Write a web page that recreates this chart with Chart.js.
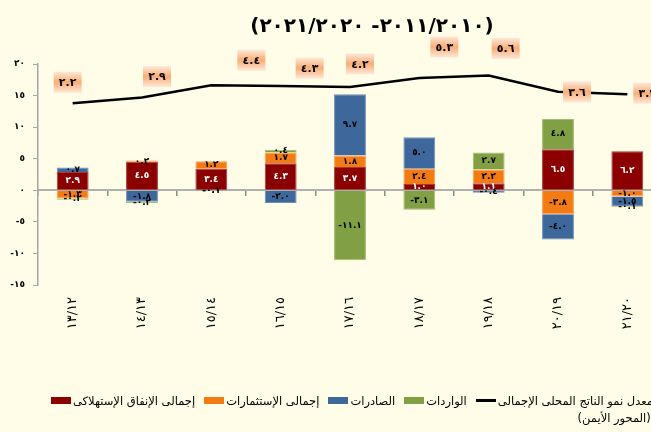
<!DOCTYPE html>
<html lang="ar">
<head>
<meta charset="utf-8">
<script src="https://cdn.jsdelivr.net/npm/chart.js@4.4.1/dist/chart.umd.min.js"></script>
<style>
  html, body { margin: 0; padding: 0; background: #fffde8; overflow: hidden; }
  #wrap { position: relative; width: 651px; height: 432px; overflow: hidden; background: #fffde8; }
  #pmc { position: absolute; left: 0; top: 0; }
  #title {
    position: absolute; left: 0; top: 13px; width: 744px; text-align: center;
    font: bold 20px "DejaVu Sans", sans-serif; color: #000; white-space: nowrap;
  }
  #legend {
    position: absolute; left: 51px; top: 393px; white-space: nowrap;
    font: 11.5px "DejaVu Sans", sans-serif; color: #000; display: flex; align-items: flex-start;
  }
  #legend .item { display: flex; align-items: flex-start; margin-right: 9px; }
  #legend .sw { width: 20px; height: 7px; margin: 4px 2px 0 0; }
  #legend .ln { width: 20px; height: 3px; background: #000; margin: 6px 2px 0 0; }
  #legend .txt { direction: ltr; line-height: 17px; }
  #legend .l1 { direction: rtl; text-align: left; }
  #legend .l2 { direction: rtl; text-align: right; width: 153px; }
</style>
</head>
<body>
<div id="wrap">
  <canvas id="pmc" width="670" height="432"></canvas>
  <div id="title">(٢٠١١/٢٠١٠- ٢٠٢١/٢٠٢٠)</div>
  <div id="legend"></div>
</div>
<script>
// ── data ────────────────────────────────────────────────────────────────
const years        = ["١٣/١٢", "١٤/١٣", "١٥/١٤", "١٦/١٥", "١٧/١٦", "١٨/١٧", "١٩/١٨", "٢٠/١٩", "٢١/٢٠"];
const consumption  = [2.9, 4.5, 3.4, 4.3, 3.7, 1.0, 1.1, 6.5, 6.2];
const investment   = [-1.3, 0.2, 1.2, 1.7, 1.8, 2.4, 2.2, -3.8, -1.0];
const exportsVal   = [0.7, -1.8, -0.04, -2.0, 9.7, 5.0, -0.4, -4.0, -1.5];
const importsVal   = [-0.2, -0.2, -0.1, 0.4, -11.1, -3.1, 2.7, 4.8, -0.1];
const gdpGrowth    = [2.2, 2.9, 4.4, 4.3, 4.2, 5.3, 5.6, 3.6, 3.3];
const yTicks       = [-15, -10, -5, 0, 5, 10, 15, 20];

// label box placement for the growth line (px offset from the point)
const gdpLabelOffset = [[-5,-21],[15,-21],[40,-25],[29,-18],[10,-23],[25,-31],[17,-27],[19,0],[20,-1]];

const LABEL_CONS = "إجمالى الإنفاق الإستهلاكى";
const LABEL_INV  = "إجمالى الإستثمارات";
const LABEL_EXP  = "الصادرات";
const LABEL_IMP  = "الواردات";
const LABEL_GDP  = ["معدل نمو الناتج المحلى الإجمالى", "(المحور الأيمن)"];

const arDigits = "٠١٢٣٤٥٦٧٨٩";
const toAr = s => String(s).replace(/[0-9]/g, d => arDigits[d]);
const fmt1 = v => toAr((Math.abs(v) < 0.05 && v < 0 ? "-0.0" : v.toFixed(1)));

const $ = id => document.getElementById(id);
const canvas = $("pmc");

// ── plugins ─────────────────────────────────────────────────────────────
const barLabels = {
  id: "barLabels",
  afterDatasetsDraw(chart) {
    const ctx = chart.ctx;
    ctx.save();
    ctx.font = "bold 9px 'DejaVu Sans', sans-serif";
    ctx.textAlign = "center";
    ctx.textBaseline = "middle";
    chart.data.datasets.forEach((ds, di) => {
      if (ds.type !== "bar") return;
      const meta = chart.getDatasetMeta(di);
      meta.data.forEach((el, i) => {
        const v = ds.data[i];
        const { x, y, base } = el.getProps(["x", "y", "base"], true);
        ctx.fillStyle = ds.labelColor;
        ctx.fillText(fmt1(v), x, (y + base) / 2);
      });
    });
    ctx.restore();
  },
};

const lineLabels = {
  id: "lineLabels",
  afterDatasetsDraw(chart) {
    const ctx = chart.ctx;
    const di = chart.data.datasets.findIndex(d => d.type === "line");
    const meta = chart.getDatasetMeta(di);
    ctx.save();
    ctx.font = "bold 11px 'DejaVu Sans', sans-serif";
    ctx.textAlign = "center";
    ctx.textBaseline = "middle";
    meta.data.forEach((pt, i) => {
      const [dx, dy] = gdpLabelOffset[i];
      const cx = pt.x + dx, cy = pt.y + dy;
      const w = 28, h = 21;
      const g = ctx.createLinearGradient(0, cy - h / 2, 0, cy + h / 2);
      g.addColorStop(0, "#fde9d9");
      g.addColorStop(0.5, "#f9ad76");
      g.addColorStop(1, "#fde9d9");
      ctx.fillStyle = g;
      ctx.fillRect(cx - w / 2, cy - h / 2, w, h);
      ctx.fillStyle = "#000";
      ctx.fillText(fmt1(gdpGrowth[i]), cx, cy + 1);
    });
    ctx.restore();
  },
};

// ── chart ───────────────────────────────────────────────────────────────
const bar = (label, data, color, border, labelColor) => ({
  type: "bar", label, data, backgroundColor: color, borderColor: border, borderWidth: 1,
  stack: "s", yAxisID: "y", xAxisID: "x", barPercentage: 0.46, categoryPercentage: 1,
  labelColor, order: 2,
});

const chart = new Chart(canvas.getContext("2d"), {
  data: {
    labels: years,
    datasets: [
      bar(LABEL_CONS, consumption, "#8b0000", "#a33a3a", "#ffffff"),
      bar(LABEL_INV,  investment,  "#f47b14", "#f7a057", "#000000"),
      bar(LABEL_EXP,  exportsVal,  "#3e679b", "#6f8fb8", "#000000"),
      bar(LABEL_IMP,  importsVal,  "#80a043", "#a3bb74", "#000000"),
      { type: "line", label: LABEL_GDP.join(" "), data: gdpGrowth, borderColor: "#000", borderWidth: 2.5,
        pointRadius: 0, tension: 0, yAxisID: "y1", xAxisID: "x", order: 1 },
    ],
  },
  options: {
    responsive: false, animation: false, devicePixelRatio: 1,
    layout: { padding: { top: 64, right: 8, bottom: 0, left: 0 } },
    scales: {
      x: {
        type: "category", position: "bottom", offset: true,
        grid: { display: false, drawTicks: false }, border: { display: false },
        ticks: { minRotation: 90, maxRotation: 90, padding: 12, color: "#000",
                 font: { family: "'DejaVu Sans', sans-serif", size: 13 } },
        afterFit: s => { s.height = 147; },
      },
      xZero: {
        type: "category", position: { y: 0 }, offset: true, labels: years,
        grid: { offset: true, drawOnChartArea: false, drawTicks: true, tickLength: 5, color: "#8c8c8c", lineWidth: 1.5 },
        border: { color: "#b0b0b0", width: 2 },
        ticks: { display: true, color: "rgba(0,0,0,0)", font: { size: 1 } },
      },
      y: {
        position: "left", min: -15, max: 20,
        afterBuildTicks: s => { s.ticks = yTicks.map(v => ({ value: v })); },
        grid: { drawOnChartArea: false, tickLength: 5, color: "#a6a6a6" },
        border: { color: "#a6a6a6", width: 1.5 },
        ticks: { padding: 8, color: "#000", callback: v => toAr(v),
                 font: { family: "'DejaVu Sans', sans-serif", size: 9, weight: "bold" } },
        afterFit: s => { s.width = 38; },
      },
      y1: { position: "right", display: false, min: -20, max: 7 },
    },
    plugins: { legend: { display: false }, tooltip: { enabled: false }, title: { display: false } },
  },
  plugins: [barLabels, lineLabels],
});

// ── legend (html) ───────────────────────────────────────────────────────
const legend = $("legend");
chart.data.datasets.forEach(ds => {
  const item = document.createElement("div");
  item.className = "item";
  const sw = document.createElement("span");
  const txt = document.createElement("div");
  txt.className = "txt";
  if (ds.type === "line") {
    sw.className = "ln";
    LABEL_GDP.forEach((part, k) => {
      const row = document.createElement("div");
      row.className = k === 0 ? "l1" : "l2";
      row.textContent = part;
      txt.appendChild(row);
    });
  } else {
    sw.className = "sw";
    sw.style.background = ds.backgroundColor;
    txt.textContent = ds.label;
  }
  item.append(sw, txt);
  legend.appendChild(item);
});
</script>
</body>
</html>
